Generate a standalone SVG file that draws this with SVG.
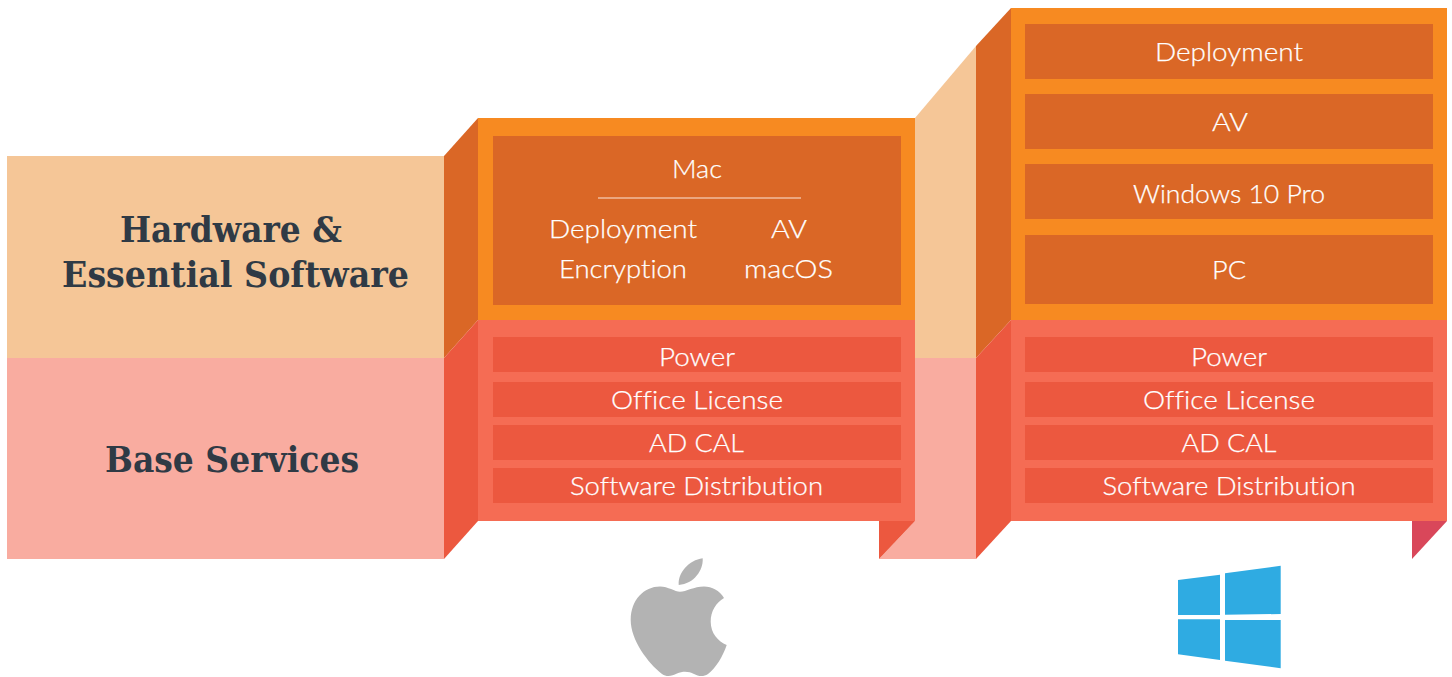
<svg xmlns="http://www.w3.org/2000/svg" width="1452" height="677" viewBox="0 0 1452 677">
<style>
.peach{fill:#F5C697}.pink{fill:#F9ACA0}.orange{fill:#F78A21}.dorange{fill:#DA6726}.red{fill:#EC583F}.lred{fill:#F56C54}
.t{font-family:"Lato","Open Sans",sans-serif;font-size:26px;font-weight:300;fill:#fff;stroke:#fff;stroke-width:.25px;text-anchor:middle;font-variant-ligatures:none}
.h{font-family:"DejaVu Serif","Liberation Serif",serif;font-weight:700;font-size:35px;fill:#2F3A45;text-anchor:middle}
</style>
<rect width="1452" height="677" fill="#fff"/>
<g id="label-hardware">
<rect class="peach" x="7" y="156" width="437" height="202"/>
<text class="h" x="231" y="242" textLength="222" lengthAdjust="spacingAndGlyphs">Hardware &amp;</text>
<text class="h" x="235.500" y="286.500" textLength="347" lengthAdjust="spacingAndGlyphs">Essential Software</text>
</g>
<g id="label-base">
<rect class="pink" x="7" y="358" width="437" height="201"/>
<text class="h" x="232" y="472" textLength="254" lengthAdjust="spacingAndGlyphs">Base Services</text>
</g>
<g id="connector-bands">
<polygon class="peach" points="915,118 976,46 976,358 915,358"/>
<polygon class="pink" points="915,358 976,358 976,559 879,559 915,521"/>
</g>
<g id="mac-stack">
<polygon class="dorange" points="444,156 478,118 478,320 444,358"/>
<polygon class="red" points="444,358 478,320 478,521 444,559"/>
<rect class="orange" x="478" y="118" width="437" height="202"/>
<rect class="dorange" x="493" y="136" width="408" height="169"/>
<text class="t" x="697" y="177.500" textLength="50" lengthAdjust="spacingAndGlyphs">Mac</text>
<rect x="598" y="197.500" width="203" height="1" fill="#FBE6D8"/>
<text class="t" x="623" y="237.500" textLength="148" lengthAdjust="spacingAndGlyphs">Deployment</text>
<text class="t" x="789" y="237.500" textLength="36" lengthAdjust="spacingAndGlyphs">AV</text>
<text class="t" x="623" y="277.500" textLength="128" lengthAdjust="spacingAndGlyphs">Encryption</text>
<text class="t" x="788.500" y="277.500" textLength="89" lengthAdjust="spacingAndGlyphs">macOS</text>
<rect class="lred" x="478" y="320" width="437" height="201"/>
<rect class="red" x="493" y="337" width="408" height="35"/>
<rect class="red" x="493" y="382" width="408" height="35"/>
<rect class="red" x="493" y="425" width="408" height="35"/>
<rect class="red" x="493" y="468" width="408" height="35"/>
<text class="t" x="697" y="365.500" textLength="76" lengthAdjust="spacingAndGlyphs">Power</text>
<text class="t" x="697" y="408.500" textLength="172" lengthAdjust="spacingAndGlyphs">Office License</text>
<text class="t" x="696.500" y="451.500" textLength="95" lengthAdjust="spacingAndGlyphs">AD CAL</text>
<text class="t" x="696.500" y="494.500" textLength="253" lengthAdjust="spacingAndGlyphs">Software Distribution</text>
<polygon class="red" points="879,521 915,521 879,559"/>
</g>
<g id="windows-stack">
<polygon class="dorange" points="976,46 1011,8 1011,320 976,358"/>
<polygon class="red" points="976,358 1011,320 1011,521 976,559"/>
<rect class="orange" x="1011" y="8" width="436" height="312"/>
<rect class="dorange" x="1025" y="24" width="408" height="55"/>
<rect class="dorange" x="1025" y="94" width="408" height="55"/>
<rect class="dorange" x="1025" y="164" width="408" height="55"/>
<rect class="dorange" x="1025" y="235" width="408" height="69"/>
<text class="t" x="1229" y="60.500" textLength="148" lengthAdjust="spacingAndGlyphs">Deployment</text>
<text class="t" x="1230" y="130.500" textLength="36" lengthAdjust="spacingAndGlyphs">AV</text>
<text class="t" x="1229" y="202.500" textLength="192" lengthAdjust="spacingAndGlyphs">Windows 10 Pro</text>
<text class="t" x="1229" y="278.500" textLength="34" lengthAdjust="spacingAndGlyphs">PC</text>
<rect class="lred" x="1011" y="320" width="436" height="201"/>
<rect class="red" x="1025" y="337" width="408" height="35"/>
<rect class="red" x="1025" y="382" width="408" height="35"/>
<rect class="red" x="1025" y="425" width="408" height="35"/>
<rect class="red" x="1025" y="468" width="408" height="35"/>
<text class="t" x="1229" y="365.500" textLength="76" lengthAdjust="spacingAndGlyphs">Power</text>
<text class="t" x="1229" y="408.500" textLength="172" lengthAdjust="spacingAndGlyphs">Office License</text>
<text class="t" x="1229" y="451.500" textLength="95" lengthAdjust="spacingAndGlyphs">AD CAL</text>
<text class="t" x="1229" y="494.500" textLength="253" lengthAdjust="spacingAndGlyphs">Software Distribution</text>
<polygon fill="#D9475A" points="1412,521 1447,521 1412,559"/>
</g>
<g id="apple-logo" fill="#B3B3B3">
<path d="M702.700 558.300C703.500 570 694 584 678.700 585C677.500 573 689 560 702.700 558.300Z"/>
<path d="M680 591.700C686 591.700 694 586.500 704 586.500C712 586.500 719.500 590.500 724 598C716 603 710.700 611 710.700 621.700C710.700 633 718 641.500 726.700 645C723 656 716 668 708 674C703 677.500 698 676 694 674C689 671.500 683 671 677 673.500C672 676 667 677.500 662 674C648 663 630.700 640 630.700 620C630.700 600 644 586.500 660 586.500C668 586.500 675 591.700 680 591.700Z"/>
</g>
<g id="windows-logo" fill="#2FABE2">
<polygon points="1178,580 1220,574.700 1220,615 1178,615"/>
<polygon points="1225,573.300 1280.700,565.700 1280.700,614 1225,614.700"/>
<polygon points="1178,619.300 1220,619.300 1220,660 1178,654.300"/>
<polygon points="1225,620 1280.700,620 1280.700,668.300 1225,660.700"/>
</g>
</svg>
